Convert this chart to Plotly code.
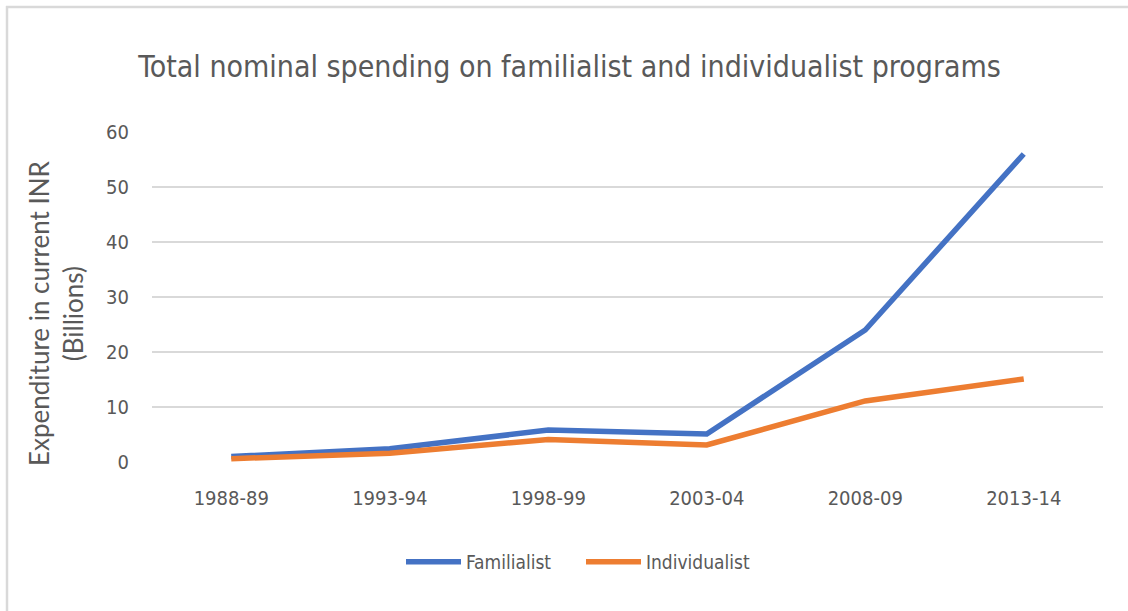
import plotly.graph_objects as go

categories = ["1988-89", "1993-94", "1998-99", "2003-04", "2008-09", "2013-14"]
familialist = [1.0, 2.4, 5.8, 5.1, 24.0, 56.0]
individualist = [0.6, 1.6, 4.1, 3.1, 11.1, 15.1]
y_ticks = [0, 10, 20, 30, 40, 50, 60]

NARROW = "Liberation Sans Narrow, DejaVu Sans Condensed, Arial Narrow, sans-serif"
GREY = "#595959"

fig = go.Figure()
fig.add_trace(go.Scatter(x=categories, y=familialist, mode="lines", name="Familialist",
                         line=dict(color="#4472C4", width=5.5)))
fig.add_trace(go.Scatter(x=categories, y=individualist, mode="lines", name="Individualist",
                         line=dict(color="#ED7D31", width=5.5)))

W, H = 1128, 611
L, R, T, B = 152, 25, 132, 149
pw = W - L - R
ph = H - T - B

def px_x(p):
    return (p - L) / pw

def px_y(p):
    return (H - B - p) / ph

fig.update_layout(
    width=W, height=H,
    margin=dict(l=L, r=R, t=T, b=B),
    paper_bgcolor="white", plot_bgcolor="white",
    title=dict(text="Total nominal spending on familialist and individualist programs",
               x=0.505, xanchor="center", y=1 - 66 / H, yanchor="middle",
               font=dict(family=NARROW, size=30, color=GREY)),
    xaxis=dict(type="category", showgrid=False, zeroline=False, showline=False,
               ticks="", tickfont=dict(family=NARROW, size=20, color=GREY),
               range=[-0.5, 5.5], ticklabelstandoff=22),
    yaxis=dict(range=[0, 60], tickvals=y_ticks, showgrid=True, gridcolor="#d9d9d9",
               gridwidth=1.5, zeroline=False, showline=False, ticks="",
               tickfont=dict(family=NARROW, size=20, color=GREY), ticklabelstandoff=22),
    legend=dict(orientation="h", x=px_x(401), xanchor="left", y=px_y(562), yanchor="middle",
                font=dict(family=NARROW, size=19, color=GREY), itemwidth=55,
                bgcolor="rgba(0,0,0,0)", entrywidth=110, entrywidthmode="pixels"),
    showlegend=True,
)

fig.add_annotation(text="Expenditure in current INR<br>(Billions)", textangle=-90,
                   xref="paper", yref="paper", x=px_x(56), y=px_y(313),
                   xanchor="center", yanchor="middle", showarrow=False,
                   font=dict(family="Lato, Open Sans, sans-serif", size=26, color=GREY))

# chart border (top and left edges visible)
fig.add_shape(type="line", xref="paper", yref="paper", x0=px_x(6), x1=px_x(1130),
              y0=px_y(7), y1=px_y(7), line=dict(color="#d9d9d9", width=2.5))
fig.add_shape(type="line", xref="paper", yref="paper", x0=px_x(7), x1=px_x(7),
              y0=px_y(6), y1=px_y(615), line=dict(color="#d9d9d9", width=2.5))

fig.write_html("out.html")
